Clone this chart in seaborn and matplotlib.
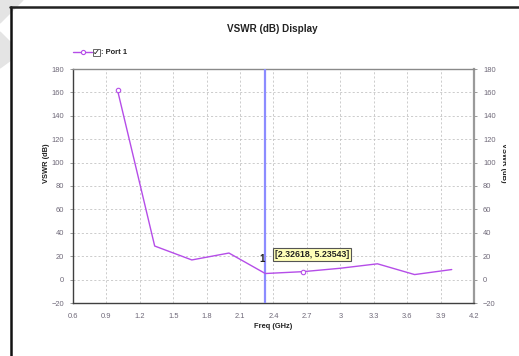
import numpy as np
import pandas as pd
import matplotlib
matplotlib.use("Agg")
import matplotlib.pyplot as plt
from matplotlib.patches import Polygon, Rectangle
from matplotlib.lines import Line2D
import seaborn as sns

# Port 1 VSWR sweep
freq_ghz = [1.0, 1.3333, 1.6667, 2.0, 2.3262, 2.6667, 3.0, 3.3333, 3.6667, 4.0]
vswr_db = [161.8, 28.7, 16.8, 22.7, 5.2, 6.8, 9.7, 13.5, 4.3, 8.6]
marker_freq = 2.32618
marker_value = 5.23543
x_ticks = [0.6, 0.9, 1.2, 1.5, 1.8, 2.1, 2.4, 2.7, 3.0, 3.3, 3.6, 3.9, 4.2]
x_tick_labels = ["0.6", "0.9", "1.2", "1.5", "1.8", "2.1", "2.4", "2.7", "3", "3.3", "3.6", "3.9", "4.2"]
y_ticks = [-20, 0, 20, 40, 60, 80, 100, 120, 140, 160, 180]

sns.set_style("white")
plt.rcParams["font.family"] = ["Liberation Sans", "DejaVu Sans"]

W, H = 519, 356
fig = plt.figure(figsize=(W / 100, H / 100), dpi=100)

def fx(px):
    return px / W

def fy(py):
    return 1 - py / H

# faint corner decoration and window frame
fig.patches.append(Polygon([[fx(0), fy(0)], [fx(23), fy(0)], [fx(0), fy(23)]],
                           closed=True, transform=fig.transFigure, color="#e4e4e4", zorder=0))
fig.patches.append(Polygon([[fx(0), fy(32)], [fx(11), fy(43)], [fx(11), fy(60)], [fx(0), fy(68)]],
                           closed=True, transform=fig.transFigure, color="#e4e4e4", zorder=0))
fig.add_artist(Line2D([fx(11), fx(11)], [fy(7), fy(356)], transform=fig.transFigure,
                      color="#111111", lw=1.8))
fig.add_artist(Line2D([fx(10), fx(519)], [fy(7), fy(7)], transform=fig.transFigure,
                      color="#222222", lw=1.8))

ax_l, ax_r, ax_t, ax_b = 73, 474, 69, 303
ax = fig.add_axes([fx(ax_l), fy(ax_b), fx(ax_r) - fx(ax_l), fy(ax_t) - fy(ax_b)])

df = pd.DataFrame({"Freq (GHz)": freq_ghz, "VSWR (dB)": vswr_db})
line_color = "#b54de8"
sns.lineplot(data=df, x="Freq (GHz)", y="VSWR (dB)", ax=ax, color=line_color, lw=1.0,
             marker="o", markersize=3.2, markerfacecolor="white", markeredgecolor=line_color,
             markeredgewidth=0.8, markevery=[0, 5], legend=False, zorder=4)

ax.axvline(marker_freq, color="#8c8cff", lw=1.6, zorder=3)

ax.set_xlim(0.6, 4.2)
ax.set_ylim(-20, 180)
ax.set_xticks(x_ticks)
ax.set_xticklabels(x_tick_labels)
ax.set_yticks(y_ticks)
ax.grid(True, color="#c4c4c4", lw=0.6, ls=(0, (2.5, 2.5)))
ax.set_xlabel("")
ax.set_ylabel("")

tick_color = "#6e6878"
ax.tick_params(axis="both", labelsize=5.4, colors="#8a8a8a", labelcolor=tick_color,
               length=2.5, width=0.6, direction="out")
ax.tick_params(axis="y", right=True, labelright=True, left=True, pad=4)
ax.tick_params(axis="x", pad=5)

for side, col, lw in [("left", "#404040", 1.0), ("bottom", "#404040", 1.0),
                      ("top", "#8a8a8a", 1.0), ("right", "#9a9a9a", 1.6)]:
    ax.spines[side].set_visible(True)
    ax.spines[side].set_color(col)
    ax.spines[side].set_linewidth(lw)

# marker readout
ax.text(2.318, 17.5, "1", fontsize=7, fontweight="bold", color="#222222",
        ha="right", va="center", zorder=6)
ax.text(2.41, 21.5, f"[{marker_freq}, {marker_value}]", fontsize=6.3, fontweight="bold",
        color="#222222", ha="left", va="center", zorder=6,
        bbox=dict(boxstyle="square,pad=0.2", fc="#ffffb8", ec="#555555", lw=0.8))

# titles and axis labels
fig.text(fx(272), fy(29), "VSWR (dB) Display", fontsize=7.1, fontweight="bold",
         color="#222222", ha="center", va="center")
fig.text(fx(273), fy(326), "Freq (GHz)", fontsize=5.4, fontweight="bold",
         color="#222222", ha="center", va="center")
fig.text(fx(47), fy(163), "VSWR (dB)", fontsize=5.4, fontweight="bold",
         color="#222222", ha="center", va="center", rotation=90)
rt = fig.text(fx(504), fy(163), "VSWR (dB)", fontsize=5.4, fontweight="bold",
              color="#222222", ha="center", va="center", rotation=-90)
clip = Rectangle((0, 0), fx(506), 1, transform=fig.transFigure, visible=False)
fig.patches.append(clip)
rt.set_clip_path(clip)

# legend row
fig.add_artist(Line2D([fx(73), fx(92)], [fy(52), fy(52)], transform=fig.transFigure,
                      color=line_color, lw=1.0))
fig.add_artist(Line2D([fx(83)], [fy(52)], transform=fig.transFigure, marker="o",
                      markersize=3, markerfacecolor="white", markeredgecolor=line_color,
                      markeredgewidth=0.8, color=line_color))
fig.add_artist(Rectangle((fx(93), fy(56)), fx(7), fy(49) - fy(56), transform=fig.transFigure,
                         fc="white", ec="#666666", lw=0.7))
fig.text(fx(96.5), fy(52.5), "✓", fontsize=6, fontweight="bold", color="#111111",
         ha="center", va="center", family=["DejaVu Sans"])
fig.text(fx(101), fy(52.5), ": Port 1", fontsize=5.4, fontweight="bold", color="#222222",
         ha="left", va="center")

fig.savefig("out.png", dpi=100)
